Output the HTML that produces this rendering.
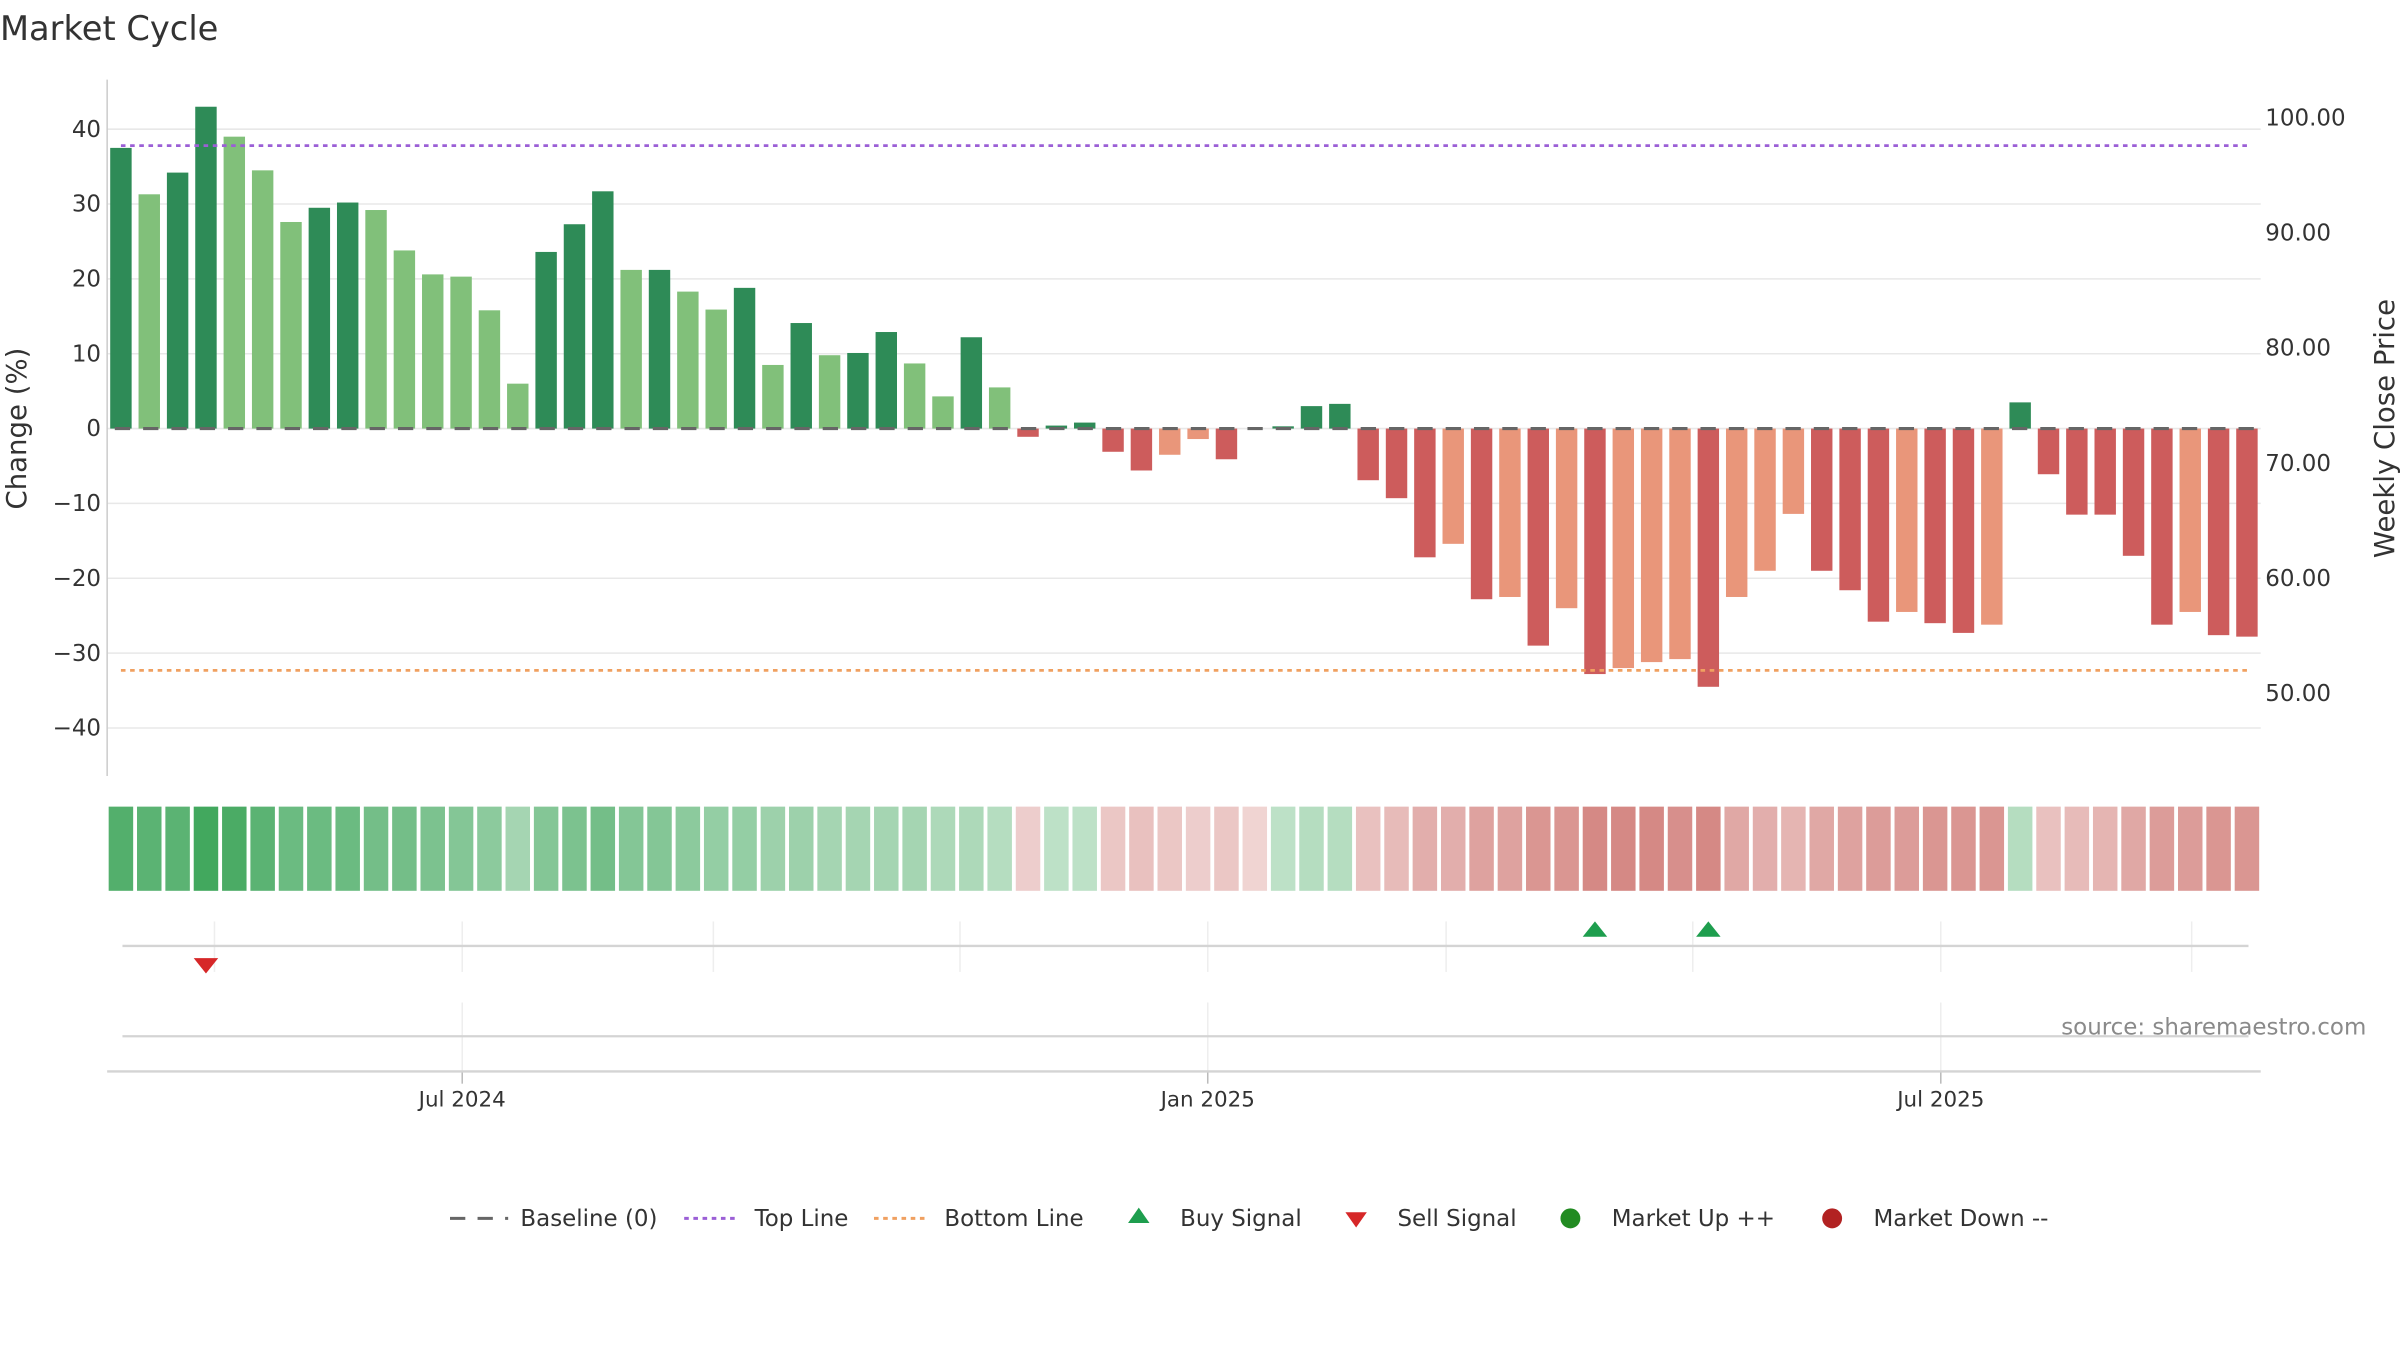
<!DOCTYPE html>
<html><head><meta charset="utf-8"><style>
html,body{margin:0;padding:0;background:#fff;}
svg{display:block;font-family:"DejaVu Sans","Liberation Sans",sans-serif;}
</style></head><body>
<svg id="chart" width="2400" height="1350" viewBox="0 0 1568 882" xmlns="http://www.w3.org/2000/svg">
<text x="0" y="26" font-size="22" fill="#333">Market Cycle</text>
<g id="grid"></g><g id="bars"></g><g id="heat"></g><g id="sig"></g><g id="axes"></g>
<text x="1546" y="676" font-size="15" fill="#8a8a8a" text-anchor="end">source: sharemaestro.com</text>
<text transform="translate(17,280) rotate(-90)" font-size="18" fill="#333" text-anchor="middle">Change (%)</text>
<text transform="translate(1564,280) rotate(-90)" font-size="18" fill="#333" text-anchor="middle">Weekly Close Price</text>
<g font-size="15" fill="#333">
 <line x1="294" y1="796" x2="332" y2="796" stroke="#666" stroke-width="2" stroke-dasharray="10,8"/><text x="340" y="801">Baseline (0)</text>
 <line x1="447" y1="796" x2="483" y2="796" stroke="#9b5fd6" stroke-width="2" stroke-dasharray="3,3"/><text x="493" y="801">Top Line</text>
 <line x1="571" y1="796" x2="607" y2="796" stroke="#f0a060" stroke-width="2" stroke-dasharray="3,3"/><text x="617" y="801">Bottom Line</text>
 <polygon points="737,799 751,799 744,789" fill="#1e9e4e"/><text x="771" y="801">Buy Signal</text>
 <polygon points="879,792 893,792 886,802" fill="#d62728"/><text x="913" y="801">Sell Signal</text>
 <circle cx="1026" cy="796" r="6.5" fill="#228b22"/><text x="1053" y="801">Market Up ++</text>
 <circle cx="1197" cy="796" r="6.5" fill="#b22222"/><text x="1224" y="801">Market Down --</text>
</g>
</svg>
<script>
const values=[37.5,31.3,34.2,43,39,34.5,27.6,29.5,30.2,29.2,23.8,20.6,20.3,15.8,6,23.6,27.3,31.7,21.2,21.2,18.3,15.9,18.8,8.5,14.1,9.8,10.1,12.9,8.7,4.3,12.2,5.5,-1.1,0.4,0.8,-3.1,-5.6,-3.5,-1.4,-4.1,0,0.3,3,3.3,-6.9,-9.3,-17.2,-15.4,-22.8,-22.5,-29,-24,-32.8,-32,-31.2,-30.8,-34.5,-22.5,-19,-11.4,-19,-21.6,-25.8,-24.5,-26,-27.3,-26.2,3.5,-6.1,-11.5,-11.5,-17,-26.2,-24.5,-27.6,-27.8];
const strong=[1,0,1,1,0,0,0,1,1,0,0,0,0,0,0,1,1,1,0,1,0,0,1,0,1,0,1,1,0,0,1,0,1,1,1,1,1,0,0,1,1,1,1,1,1,1,1,0,1,0,1,0,1,0,0,0,1,0,0,0,1,1,1,0,1,1,0,1,1,1,1,1,1,0,1,1];
const heat=[0.8,0.75,0.75,0.9,0.85,0.75,0.65,0.65,0.65,0.6,0.6,0.55,0.5,0.45,0.3,0.5,0.55,0.6,0.5,0.5,0.45,0.4,0.4,0.35,0.35,0.3,0.3,0.3,0.3,0.25,0.25,0.2,-0.15,0.15,0.15,-0.2,-0.25,-0.2,-0.15,-0.2,-0.1,0.15,0.2,0.2,-0.25,-0.3,-0.4,-0.4,-0.5,-0.5,-0.6,-0.6,-0.7,-0.7,-0.7,-0.65,-0.7,-0.45,-0.4,-0.35,-0.45,-0.5,-0.55,-0.55,-0.6,-0.6,-0.6,0.2,-0.25,-0.3,-0.35,-0.45,-0.55,-0.55,-0.6,-0.6];
const leftTicks=[40,30,20,10,0,-10,-20,-30,-40];
const rightTicks=[100,90,80,70,60,50];
const topLine=37.8, bottomLine=-32.3;
const buySignals=[52,56];
const sellSignals=[3];
const dateTickIdx=[12.04,38.34,64.2];
const dateTickLabels=["Jul 2024","Jan 2025","Jul 2025"];
const sigGridIdx=[3.3,12.04,20.9,29.6,38.34,46.75,55.45,64.2,73.05];

const NS="http://www.w3.org/2000/svg";
const x=i=>79+i*18.52;
const y=v=>280-4.89*v;
const y2=p=>77+(100-p)*7.52;
function mk(parent,tag,attrs){const e=document.createElementNS(NS,tag);for(const k in attrs)e.setAttribute(k,attrs[k]);document.getElementById(parent).appendChild(e);return e;}

leftTicks.forEach(t=>{
 const g=mk('grid','line',{x1:70,x2:1477,y1:y(t),y2:y(t),stroke:'#e8e8e8','stroke-width':1});
 
 
 const l=mk('axes','text',{x:66,y:y(t)+5,'font-size':15,fill:'#333','text-anchor':'end'});
 l.textContent=(t<0?'\u2212'+(-t):t);
 
 
});
rightTicks.forEach(t=>{
 const l=mk('axes','text',{x:1480,y:y2(t)+5,'font-size':15,fill:'#333'});
 l.textContent=t.toFixed(2);
 
 
});
const ax=mk('axes','line',{x1:70,x2:70,y1:52,y2:507,stroke:'#ccc','stroke-width':1});



values.forEach((v,i)=>{
 const pos=v>=0;
 const col=pos?(strong[i]?'#2e8b57':'#81c07a'):(strong[i]?'#cd5c5c':'#e9967a');
 const b=mk('bars','rect',{x:x(i)-7,width:14,y:Math.min(y(v),280),height:Math.abs(y(v)-280),fill:col});
 
 
});
const bl=mk('bars','line',{x1:75,x2:1473,y1:280,y2:280,stroke:'#666','stroke-width':2,'stroke-dasharray':'10,8.5'});


const tl=mk('bars','line',{x1:79,x2:1469,y1:y(topLine),y2:y(topLine),stroke:'#9b5fd6','stroke-width':1.8,'stroke-dasharray':'3,3'});


const btl=mk('bars','line',{x1:79,x2:1469,y1:y(bottomLine),y2:y(bottomLine),stroke:'#f0a060','stroke-width':1.8,'stroke-dasharray':'3,3'});



function mix(c,a){return 'rgb('+c.map(v=>Math.round(255*(1-a)+v*a)).join(',')+')';}
heat.forEach((h,i)=>{
 const a=0.2+0.8*Math.abs(h);
 const col=h>=0?mix([50,160,80],a):mix([200,100,95],a);
 const c=mk('heat','rect',{x:x(i)-8,width:16,y:527,height:55,fill:col});
 
 
});

sigGridIdx.forEach(i=>{
 const g=mk('sig','line',{x1:x(i),x2:x(i),y1:602,y2:635,stroke:'#eee','stroke-width':1});
 
 
});
dateTickIdx.forEach((i,k)=>{
 const g=mk('sig','line',{x1:x(i),x2:x(i),y1:655,y2:700,stroke:'#eee','stroke-width':1});
 
 
 const t=mk('sig','line',{x1:x(i),x2:x(i),y1:700,y2:708,stroke:'#bbb','stroke-width':1});
 
 
 const l=mk('sig','text',{x:x(i),y:723,'font-size':14,fill:'#333','text-anchor':'middle'});
 l.textContent=dateTickLabels[k];
 
 
});
[[618,80,1469],[677,80,1469],[700,70,1477]].forEach(a=>{
 const l=mk('sig','line',{x1:a[1],x2:a[2],y1:a[0],y2:a[0],stroke:'#d4d4d4','stroke-width':1.5});
 
 
});
buySignals.forEach(i=>{
 const p=mk('sig','polygon',{points:(x(i)-8)+',612 '+(x(i)+8)+',612 '+x(i)+',602',fill:'#1e9e4e'});
 
 
});
sellSignals.forEach(i=>{
 const p=mk('sig','polygon',{points:(x(i)-8)+',626 '+(x(i)+8)+',626 '+x(i)+',636',fill:'#d62728'});
 
 
});
</script>
</body></html>
